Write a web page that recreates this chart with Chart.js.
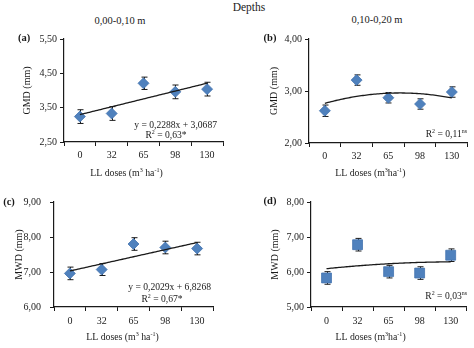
<!DOCTYPE html>
<html>
<head>
<meta charset="utf-8">
<script src="https://cdn.jsdelivr.net/npm/chart.js@4.4.1/dist/chart.umd.min.js"></script>
<style>
body{margin:0;background:#fff;}
#wrap{position:relative;width:474px;height:348px;overflow:hidden;font-family:"Liberation Serif","Times New Roman",serif;color:#1a1a1a;}
#wrap canvas{position:absolute;}
.hd{position:absolute;font-size:10px;line-height:12px;transform:translateX(-50%);white-space:nowrap;}
</style>
</head>
<body>
<div id="wrap">
  <div class="hd" style="left:249px;top:1px;font-size:11.5px">Depths</div>
  <div class="hd" style="left:120px;top:15px;font-size:10.5px">0,00-0,10 m</div>
  <div class="hd" style="left:377px;top:14px;font-size:10.5px">0,10-0,20 m</div>
  <canvas id="pa" width="237" height="180" style="left:0;top:0"></canvas>
  <canvas id="pb" width="237" height="180" style="left:237px;top:0"></canvas>
  <canvas id="pc" width="237" height="174" style="left:0;top:174px"></canvas>
  <canvas id="pd" width="237" height="174" style="left:237px;top:174px"></canvas>
</div>
<script>
// LL doses (m3 ha-1) on the x axis
const doses = ["0", "32", "65", "98", "130"];

// GMD, 0,00-0,10 m
const gmdTop = [3.24, 3.33, 4.21, 3.96, 4.04];
const gmdTopErr = [0.2, 0.2, 0.18, 0.2, 0.2];
// GMD, 0,10-0,20 m
const gmdSub = [2.62, 3.21, 2.87, 2.75, 2.98];
const gmdSubErr = [0.11, 0.1, 0.1, 0.1, 0.1];
// MWD, 0,00-0,10 m
const mwdTop = [6.96, 7.07, 7.8, 7.7, 7.67];
const mwdTopErr = [0.18, 0.17, 0.18, 0.18, 0.18];
// MWD, 0,10-0,20 m
const mwdSub = [5.83, 6.78, 6.01, 5.97, 6.48];
const mwdSubErr = [0.18, 0.18, 0.18, 0.18, 0.18];

// y axis ticks
const gmdTopTicks = [2.5, 3.5, 4.5, 5.5];
const gmdSubTicks = [2, 3, 4];
const mwdTopTicks = [6, 7, 8, 9];
const mwdSubTicks = [5, 6, 7, 8];

// linear fits [slope, intercept], x = 1..5
const gmdTopFit = [0.2288, 3.0687];
const mwdTopFit = [0.2029, 6.8268];
const r2 = ["0,63", "0,11", "0,67", "0,03"];
const r2sig = ["*", "ns", "*", "ns"];

const serif = '"Liberation Serif", "Times New Roman", serif';
const ink = '#1a1a1a';
const blue = '#4f81bd';

const comma = (v, n) => v.toFixed(n).replace('.', ',');

// quadratic least squares on x = 1..5 (centred, orthogonal form)
function quadFit(ys) {
  const m = ys.reduce((a, b) => a + b, 0) / ys.length;
  let b = 0, c = 0;
  ys.forEach((y, i) => { const t = i - 2; b += t * y; c += (t * t - 2) * y; });
  b /= 10; c /= 14;
  return i => { const t = i - 2; return m + b * t + c * (t * t - 2); };
}

function richText(ctx, parts, x, y, align, size, bold) {
  const f = p => (bold ? 'bold ' : '') + (p[1] ? size * 0.62 : size) + 'px ' + serif;
  let w = 0;
  parts.forEach(p => { ctx.font = f(p); w += ctx.measureText(p[0]).width; });
  let cx = align === 'right' ? x - w : align === 'center' ? x - w / 2 : x;
  ctx.textAlign = 'left';
  ctx.textBaseline = 'middle';
  parts.forEach(p => {
    ctx.font = f(p);
    ctx.fillText(p[0], cx, p[1] ? y - size * 0.3 : y);
    cx += ctx.measureText(p[0]).width;
  });
}

function panel(id, cfg) {
  const extras = {
    id: 'extras' + id,
    beforeDatasetsDraw(chart) {
      const ctx = chart.ctx, xs = chart.scales.x, ys = chart.scales.y;
      ctx.save();
      ctx.strokeStyle = ink;
      ctx.lineWidth = 1;
      cfg.values.forEach((v, i) => {
        const x = Math.round(xs.getPixelForValue(i)) + 0.5;
        const y1 = ys.getPixelForValue(v + cfg.err[i]);
        const y2 = ys.getPixelForValue(v - cfg.err[i]);
        ctx.beginPath();
        ctx.moveTo(x, y1); ctx.lineTo(x, y2);
        ctx.moveTo(x - 3, y1); ctx.lineTo(x + 3, y1);
        ctx.moveTo(x - 3, y2); ctx.lineTo(x + 3, y2);
        ctx.stroke();
      });
      ctx.restore();
    },
    afterDatasetsDraw(chart) {
      const ctx = chart.ctx, xs = chart.scales.x, ys = chart.scales.y, a = chart.chartArea;
      ctx.save();
      // trend line
      ctx.strokeStyle = ink;
      ctx.lineWidth = 1.3;
      ctx.beginPath();
      for (let t = 0; t <= 4.0001; t += 0.05) {
        const px = xs.getPixelForValue(t), py = ys.getPixelForValue(cfg.trend(t));
        t === 0 ? ctx.moveTo(px, py) : ctx.lineTo(px, py);
      }
      ctx.stroke();

      ctx.fillStyle = ink;
      // panel letter
      richText(ctx, [[cfg.letter, 0]], cfg.letterPos[0], cfg.letterPos[1], 'center', 10.5, true);
      // y title
      ctx.save();
      ctx.translate(cfg.yTitleX, (a.top + a.bottom) / 2);
      ctx.rotate(-Math.PI / 2);
      richText(ctx, [[cfg.yTitle, 0]], 0, 0, 'center', 10);
      ctx.restore();
      // x title
      richText(ctx, cfg.xTitle, (a.left + a.right) / 2 + cfg.xTitleDx, a.bottom + cfg.xTitleDy, 'center', 9.8);
      // equation and R2
      cfg.notes.forEach(n => richText(ctx, n.parts, n.x, n.y, n.align, 9.6));
      ctx.restore();
    }
  };

  new Chart(document.getElementById(id), {
    type: 'line',
    data: {
      labels: doses,
      datasets: [{
        data: cfg.values,
        showLine: false,
        pointStyle: cfg.marker,
        pointRadius: cfg.radius,
        pointHoverRadius: cfg.radius,
        pointBackgroundColor: blue,
        pointBorderColor: '#4575b0',
        pointBorderWidth: 0.8
      }]
    },
    options: {
      responsive: false,
      animation: false,
      events: [],
      layout: { padding: { left: 0, right: cfg.padRight, top: cfg.padTop, bottom: 0 } },
      plugins: { legend: { display: false }, tooltip: { enabled: false } },
      scales: {
        x: {
          offset: true,
          grid: { offset: true, drawOnChartArea: false, tickLength: 4, color: ink, lineWidth: 1 },
          border: { color: ink, width: 1.2 },
          ticks: { color: ink, padding: cfg.xPad, maxRotation: 0, font: { family: serif, size: 10 } },
          afterFit: s => { s.height = cfg.xHeight; }
        },
        y: {
          min: cfg.ticks[0],
          max: cfg.ticks[cfg.ticks.length - 1],
          grid: { drawOnChartArea: false, tickLength: 4, color: ink, lineWidth: 1 },
          border: { color: ink, width: 1.2 },
          ticks: { color: ink, padding: cfg.yPad, font: { family: serif, size: 10 }, callback: v => comma(v, 2) },
          afterBuildTicks: s => { s.ticks = cfg.ticks.map(v => ({ value: v })); },
          afterFit: s => { s.width = cfg.yWidth; }
        }
      }
    },
    plugins: [extras]
  });
}

const titleSpaced = [["LL doses (m", 0], ["3", 1], [" ha", 0], ["-1", 1], [")", 0]];
const titleTight = [["LL doses (m", 0], ["3", 1], ["ha", 0], ["-1", 1], [")", 0]];

panel('pa', {
  values: gmdTop, err: gmdTopErr, ticks: gmdTopTicks,
  marker: 'rectRot', radius: 5.5,
  trend: t => gmdTopFit[0] * (t + 1) + gmdTopFit[1],
  yWidth: 64, padRight: 14, padTop: 39, xHeight: 38, xPad: 3, yPad: 3,
  letter: '(a)', letterPos: [24, 38], yTitle: 'GMD (mm)', yTitleX: 27,
  xTitle: titleSpaced, xTitleDx: -17, xTitleDy: 31,
  notes: [
    { parts: [["y = " + comma(gmdTopFit[0], 4) + "x + " + comma(gmdTopFit[1], 4), 0]], x: 217, y: 125, align: 'right' },
    { parts: [["R", 0], ["2", 1], [" = " + r2[0] + r2sig[0], 0]], x: 166, y: 135, align: 'center' }
  ]
});

panel('pb', {
  values: gmdSub, err: gmdSubErr, ticks: gmdSubTicks,
  marker: 'rectRot', radius: 5.5,
  trend: quadFit(gmdSub),
  yWidth: 72, padRight: 4, padTop: 39, xHeight: 37, xPad: 3, yPad: 3,
  letter: '(b)', letterPos: [33, 38], yTitle: 'GMD (mm)', yTitleX: 37,
  xTitle: titleTight, xTitleDx: -18, xTitleDy: 30,
  notes: [
    { parts: [["R", 0], ["2", 1], [" = " + r2[1], 0], [r2sig[1], 1]], x: 230, y: 134, align: 'right' }
  ]
});

panel('pc', {
  values: mwdTop, err: mwdTopErr, ticks: mwdTopTicks,
  marker: 'rectRot', radius: 5.5,
  trend: t => mwdTopFit[0] * (t + 1) + mwdTopFit[1],
  yWidth: 54, padRight: 24, padTop: 28, xHeight: 41, xPad: 4, yPad: 9,
  letter: '(c)', letterPos: [9, 28], yTitle: 'MWD (mm)', yTitleX: 19,
  xTitle: titleSpaced, xTitleDx: -11, xTitleDy: 30,
  notes: [
    { parts: [["y = " + comma(mwdTopFit[0], 4) + "x + " + comma(mwdTopFit[1], 4), 0]], x: 211, y: 113, align: 'right' },
    { parts: [["R", 0], ["2", 1], [" = " + r2[2] + r2sig[2], 0]], x: 162, y: 125, align: 'center' }
  ]
});

panel('pd', {
  values: mwdSub, err: mwdSubErr, ticks: mwdSubTicks,
  marker: 'rect', radius: 7,
  trend: quadFit(mwdSub),
  yWidth: 74, padRight: 4, padTop: 28, xHeight: 41, xPad: 4, yPad: 3,
  letter: '(d)', letterPos: [33, 27], yTitle: 'MWD (mm)', yTitleX: 38,
  xTitle: titleTight, xTitleDx: -18, xTitleDy: 30,
  notes: [
    { parts: [["R", 0], ["2", 1], [" = " + r2[3], 0], [r2sig[3], 1]], x: 230, y: 122, align: 'right' }
  ]
});
</script>
</body>
</html>
